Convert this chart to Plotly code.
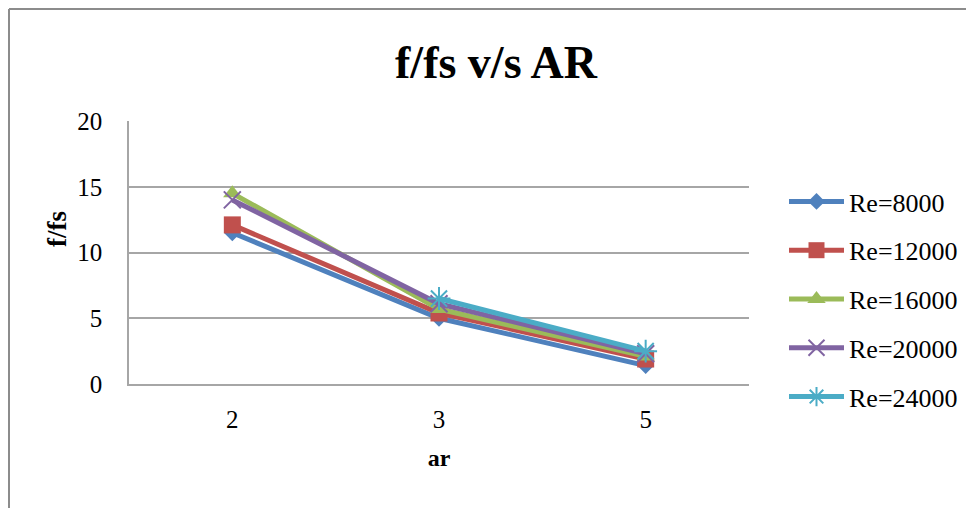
import plotly.graph_objects as go

categories = ["2", "3", "5"]
re8000 = [11.5, 5.0, 1.4]
re12000 = [12.1, 5.4, 1.9]
re16000 = [14.5, 5.7, 2.1]
re20000 = [14.0, 6.1, 2.3]
re24000 = [None, 6.5, 2.5]

series_names = ["Re=8000", "Re=12000", "Re=16000", "Re=20000", "Re=24000"]
series_values = [re8000, re12000, re16000, re20000, re24000]
colors = ["#4F81BD", "#C0504D", "#9BBB59", "#8064A2", "#4BACC6"]
symbols = ["diamond", "square", "triangle-up", "x-thin-open", "asterisk-open"]
sizes = [13, 17, 16, 17, 19]

# page has an 8px body margin; work in page coords and convert
OFF = 8
W, H = 974, 508
plot_l, plot_r, plot_t, plot_b = 129, 749, 121, 384
ml, mt = plot_l - OFF, plot_t - OFF
pw, ph = plot_r - plot_l, plot_b - plot_t
mr = W - ml - pw
mb = H - mt - ph

def px_x(p):
    return (p - plot_l) / pw

def px_y(p):
    return (plot_b - p) / ph

fig = go.Figure()
for i, (name, vals) in enumerate(zip(series_names, series_values)):
    fig.add_trace(go.Scatter(
        x=categories, y=vals, name=name, mode="lines+markers",
        legendgroup=f"g{i}",
        line=dict(color=colors[i], width=5),
        marker=dict(symbol=symbols[i], size=sizes[i], color=colors[i],
                    line=dict(color=colors[i], width=2 if "open" in symbols[i] else 0)),
        connectgaps=False,
    ))

serif = "Liberation Serif, Times New Roman, serif"

fig.update_layout(
    width=W, height=H,
    margin=dict(l=ml, r=mr, t=mt, b=mb, autoexpand=False),
    paper_bgcolor="white", plot_bgcolor="white",
    font=dict(family=serif, size=25, color="black"),
    title=dict(text="<b>f/fs v/s AR</b>", x=(496 - OFF) / W, xanchor="center",
               xref="container", yref="container", y=1 - (62 - OFF) / H,
               yanchor="middle",
               font=dict(family=serif, size=46, color="black")),
    xaxis=dict(type="category", categoryorder="array", categoryarray=categories,
               range=[-0.5, len(categories) - 0.5],
               showgrid=False, showline=True,
               linecolor="#A6A6A6", linewidth=2, ticks="",
               ticklabelstandoff=12, automargin=False,
               title=dict(text="<b>ar</b>", standoff=17,
                          font=dict(family=serif, size=24)),
               tickfont=dict(family=serif, size=25)),
    yaxis=dict(range=[0, 20], tickvals=[0, 5, 10, 15, 20], showgrid=True,
               gridcolor="#A6A6A6", gridwidth=1.5, showline=True,
               linecolor="#A6A6A6", linewidth=1.5, ticks="",
               ticklabelstandoff=20, zeroline=False, automargin=False,
               tickfont=dict(family=serif, size=25)),
    legend=dict(x=px_x(784), xanchor="left", y=px_y(178), yanchor="top",
                font=dict(family=serif, size=26), tracegroupgap=12,
                itemwidth=55, bgcolor="rgba(0,0,0,0)"),
    showlegend=True,
)

# y-axis title placed as in the reference (above the axis centre)
fig.add_annotation(text="<b>f/fs</b>", xref="paper", yref="paper",
                   x=px_x(57), y=px_y(229), xanchor="center", yanchor="middle",
                   textangle=-90, showarrow=False,
                   font=dict(family=serif, size=27, color="black"))

# Outer chart border (Excel chart area frame)
fig.add_shape(type="line", xref="paper", yref="paper",
              x0=px_x(OFF + 1), x1=px_x(OFF + 1), y0=px_y(OFF + 1), y1=px_y(530),
              line=dict(color="#8C8C8C", width=2))
fig.add_shape(type="line", xref="paper", yref="paper",
              x0=px_x(OFF + 1), x1=px_x(1000), y0=px_y(OFF + 1), y1=px_y(OFF + 1),
              line=dict(color="#8C8C8C", width=2))

fig.write_html("out.html")
